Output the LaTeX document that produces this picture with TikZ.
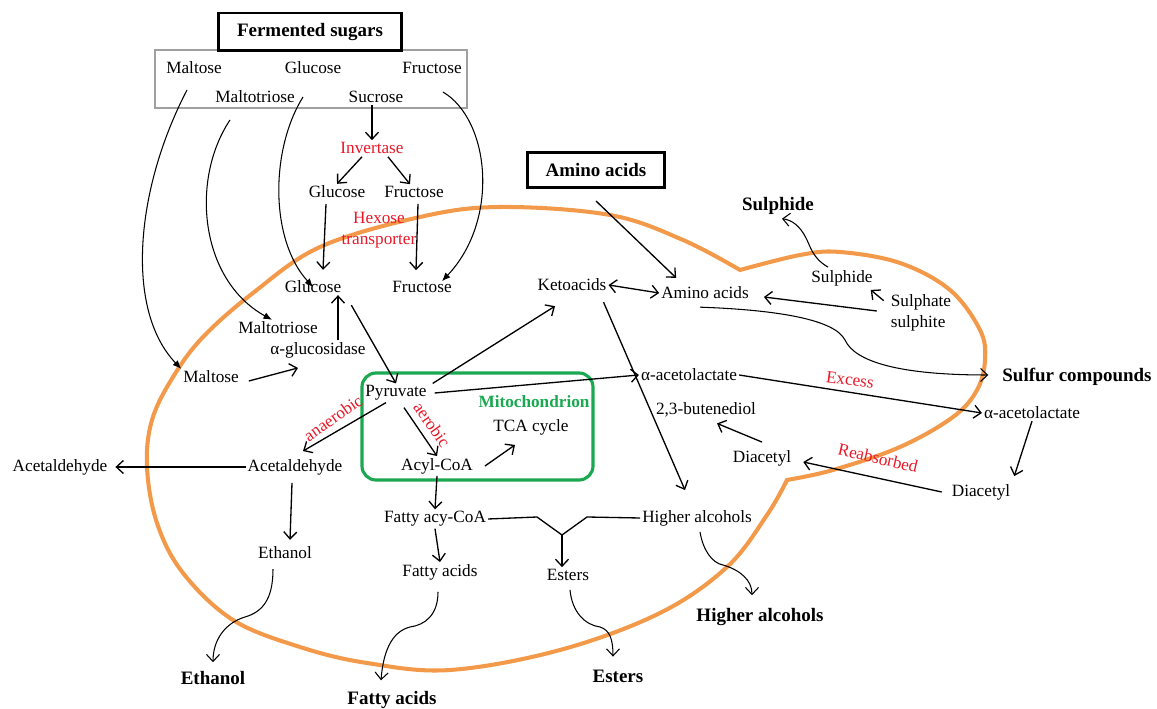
\documentclass[tikz,border=0pt]{standalone}
\usepackage{fontspec}
\setmainfont{Liberation Serif}
\usepackage{tikz}
\usetikzlibrary{arrows.meta, calc}
\usepackage{xcolor}
\definecolor{membrane}{RGB}{242,153,74}
\definecolor{mitogreen}{RGB}{26,168,80}
\definecolor{enzred}{RGB}{232,24,40}
\definecolor{boxgray}{RGB}{160,160,160}

\begin{document}
\begin{tikzpicture}[x=0.02cm, y=-0.02cm,
  lbl/.style={inner sep=1pt, font=\fontsize{9.8}{11.8}\selectfont},
  outlbl/.style={inner sep=1pt, font=\fontsize{10.8}{13}\selectfont\bfseries},
  enz/.style={lbl, text=enzred},
  arr/.style={-{Straight Barb[length=1.4mm,width=2.6mm]}, line width=0.75pt},
  curv/.style={-{Straight Barb[length=1.4mm,width=2.6mm]}, line width=0.6pt},
  inflow/.style={-{Latex[length=1.7mm,width=1.4mm]}, line width=0.6pt}]
  \useasboundingbox (0,0) rectangle (1157,709);

  % cell membrane
  \draw[membrane, line width=2.3pt] plot[smooth, tension=0.6] coordinates {(740,270) (683,240) (610,215) (500,207) (420,217) (320,247) (253,293) (203,337) (173,377) (152,420) (147,467) (157,523) (183,573) (233,620) (300,647) (367,663) (450,670) (560,650) (660,613) (727,567) (767,515) (787,480)}
    -- plot[smooth, tension=0.6] coordinates {(787,480) (833,470) (900,447) (953,417) (977,390) (985,360) (980,330) (950,290) (900,263) (840,252) (800,255) (740,270)} -- cycle;

  % mitochondrion
  \draw[mitogreen, line width=1.8pt, rounded corners=8pt] (362,373) rectangle (593,480);

  % fermented sugars
  \draw[boxgray, line width=1.2pt] (155,50) rectangle (467,108);
  \node[outlbl, draw, line width=1.7pt, minimum width=3.68cm, minimum height=0.76cm] (ferm) at (310,32) {Fermented sugars};
  \node[lbl] (maltA) at (194,68) {Maltose};
  \node[lbl] (glcA) at (313,68) {Glucose};
  \node[lbl] (fruA) at (432,68) {Fructose};
  \node[lbl] (mtrA) at (255,97) {Maltotriose};
  \node[lbl] (sucA) at (376,97) {Sucrose};

  \node[enz] (invert) at (372,148) {Invertase};
  \node[lbl] (glcB) at (337,192) {Glucose};
  \node[lbl] (fruB) at (414,192) {Fructose};
  \node[enz, align=center] (hexose) at (379,230) {Hexose\\transporter};
  \node[lbl] (glcC) at (313,287) {Glucose};
  \node[lbl] (fruC) at (422,287) {Fructose};
  \node[lbl] (mtrC) at (278,328) {Maltotriose};
  \node[lbl] (agluc) at (318,350) {α-glucosidase};
  \node[lbl] (maltC) at (211,377) {Maltose};

  % glycolysis and fermentation
  \node[lbl] (pyr) at (396,393) {Pyruvate};
  \node[enz, inner sep=0pt, rotate=35] (anaer) at (333,418) {anaerobic};
  \node[enz, inner sep=0pt, rotate=-55] (aer) at (432,425) {aerobic};
  \node[lbl] (acald) at (295,467) {Acetaldehyde};
  \node[lbl] (acaldOut) at (60,467) {Acetaldehyde};
  \node[lbl] (acyl) at (437,466) {Acyl-CoA};
  \node[lbl] (tca) at (531,427) {TCA cycle};
  \node[inner sep=1pt, font=\fontsize{9.8}{11.8}\selectfont\bfseries, text=mitogreen] (mito) at (534,402) {Mitochondrion};
  \node[lbl] (ethanol) at (285,553) {Ethanol};
  \node[outlbl] (ethanolOut) at (213,678) {Ethanol};
  \node[lbl] (fatcoa) at (435,519) {Fatty acy-CoA};
  \node[lbl] (fatac) at (440,572) {Fatty acids};
  \node[outlbl] (fatacOut) at (392,700) {Fatty acids};
  \node[lbl] (esters) at (568,575) {Esters};
  \node[outlbl] (estersOut) at (618,676) {Esters};
  \node[lbl] (higher) at (697,518) {Higher alcohols};
  \node[outlbl] (higherOut) at (760,617) {Higher alcohols};

  % amino acids, diacetyl, sulphur
  \node[outlbl, draw, line width=1.7pt, minimum width=2.76cm, minimum height=0.7cm] (aminoBox) at (596,170) {Amino acids};
  \node[lbl] (keto) at (572,285) {Ketoacids};
  \node[lbl] (amino) at (705,293) {Amino acids};
  \node[lbl] (aceto) at (689,375) {α-acetolactate};
  \node[lbl] (butene) at (706,410) {2,3-butenediol};
  \node[lbl] (diac) at (762,458) {Diacetyl};
  \node[lbl] (acetoOut) at (1032,413) {α-acetolactate};
  \node[lbl] (diacOut) at (981,492) {Diacetyl};
  \node[enz, rotate=-8] (excess) at (850,380) {Excess};
  \node[enz, rotate=-13] (reabs) at (878,458) {Reabsorbed};
  \node[outlbl] (sulphOut) at (778,206) {Sulphide};
  \node[lbl] (sulph) at (842,278) {Sulphide};
  \node[lbl, align=left] (sulphate) at (921,313) {Sulphate\\sulphite};
  \node[outlbl] (sulfur) at (1077,377) {Sulfur compounds};

  % sugar uptake
  \draw[inflow] ($(maltA)+(-7,22)$) .. controls (135,190) and (125,310) .. (maltC.north west);
  \draw[inflow] ($(mtrA)+(-25,23)$) .. controls (190,180) and (200,280) .. ($(mtrC.north)+(-6,0)$);
  \draw[inflow] ($(glcA)+(-10,29)$) .. controls (270,150) and (270,240) .. (glcC.center);
  \draw[inflow] ($(fruA)+(11,24)$) .. controls (490,120) and (500,220) .. ($(fruC.north)+(20,2)$);
  \draw[arr] (invert.north |- sucA.south) -- (invert.north);
  \draw[arr] ($(invert.south)+(-10,1)$) -- (glcB.north);
  \draw[arr] ($(invert.south)+(16,1)$) -- ($(fruB.north)+(-4,0)$);
  \draw[arr] ($(glcB.south)+(-11,4)$) -- ($(glcC.north)+(10,-9)$);
  \draw[arr] ($(fruB.south)+(4,4)$) -- ($(fruC.north)+(-6,-9)$);
  \draw[arr] ($(maltC.east)+(8,4)$) -- ($(agluc.south)+(-20,8)$);
  \draw[arr] ($(agluc.north)+(20,0)$) -- ($(glcC.south)+(25,0)$);
  \draw[arr] ($(glcC.south east)+(8,10)$) -- (pyr.north);

  % pyruvate
  \draw[arr] ($(pyr.north east)+(4,0)$) -- ($(keto.south)+(-17,13)$);
  \draw[arr] ($(pyr.east)+(6,0)$) -- (aceto.west);
  \draw[arr] ($(pyr.south)+(-10,0)$) -- ($(acald.north)+(8,-6)$);
  \draw[arr] ($(pyr.south)+(8,5)$) -- (acyl.north);
  \draw[arr] ($(acyl.east)+(10,0)$) -- ($(tca.south)+(-16,8)$);
  \draw[arr] (acald.west) -- ($(acaldOut.east)+(6,0)$);
  \draw[arr] ($(acald.south)+(-3,6)$) -- ($(ethanol.north)+(5,-5)$);
  \draw[arr] (acyl.south) -- (fatcoa.north);
  \draw[arr] (fatcoa.south) -- (fatac.north);

  % esters
  \coordinate (ymerge) at (562,535);
  \draw[line width=0.75pt] (fatcoa.east) -- (537,517) -- (ymerge) -- (587,517) -- (higher.west);
  \draw[arr] (ymerge) -- (ymerge |- esters.north);

  % excretion
  \draw[curv] ($(ethanol.south)+(-12,8)$) .. controls (273,600) and (262,612) .. (245,617) .. controls (225,623) and (213,640) .. ($(ethanolOut.north)+(0,-7)$);
  \draw[curv] ($(fatac.south)+(-2,10)$) .. controls (438,615) and (425,625) .. (410,627) .. controls (390,632) and (383,655) .. ($(fatacOut.north)+(-11,-9)$);
  \draw[curv] ($(esters.south)+(2,7)$) .. controls (572,612) and (585,625) .. (600,627) .. controls (610,630) and (613,640) .. ($(estersOut.north)+(-5,-11)$);
  \draw[curv] ($(higher.south)+(3,4)$) .. controls (703,550) and (712,563) .. (723,565) .. controls (740,570) and (752,580) .. ($(higherOut.north)+(-8,-11)$);

  % amino acids
  \draw[arr] ($(aminoBox.south)+(0,12)$) -- ($(amino.north west)+(17,-7)$);
  \draw[{Straight Barb[length=1.4mm,width=2.6mm]}-{Straight Barb[length=1.4mm,width=2.6mm]}, line width=0.75pt] (keto.east) -- (amino.west);
  \draw[arr] ($(keto.south east)+(-5,9)$) -- ($(higher.north)+(-12,-18)$);
  \draw[arr] ($(sulphate.west)+(-12,-2)$) -- ($(amino.east)+(13,4)$);
  \draw[arr] ($(sulphate.north west)+(-5,8)$) -- ($(sulph.south east)+(-4,2)$);
  \draw[curv] ($(sulph.north)+(-14,-1)$) .. controls (812,258) and (810,245) .. (806,238) .. controls (800,226) and (792,220) .. ($(sulphOut.south)+(4,2)$);
  \draw[curv] ($(amino.south)+(-5,6)$) .. controls (780,310) and (835,320) .. (845,340) .. controls (855,362) and (900,375) .. ($(sulfur.west)+(-12,-2)$);

  % diacetyl
  \draw[arr] (aceto.east) -- (acetoOut.west);
  \draw[arr] (acetoOut.south) -- ($(diacOut.north east)+(2,-6)$);
  \draw[arr] ($(diacOut.west)+(-8,0)$) -- ($(diac.east)+(10,4)$);
  \draw[arr] ($(diac.north)+(0,-6)$) -- ($(butene.south)+(11,4)$);
\end{tikzpicture}
\end{document}
